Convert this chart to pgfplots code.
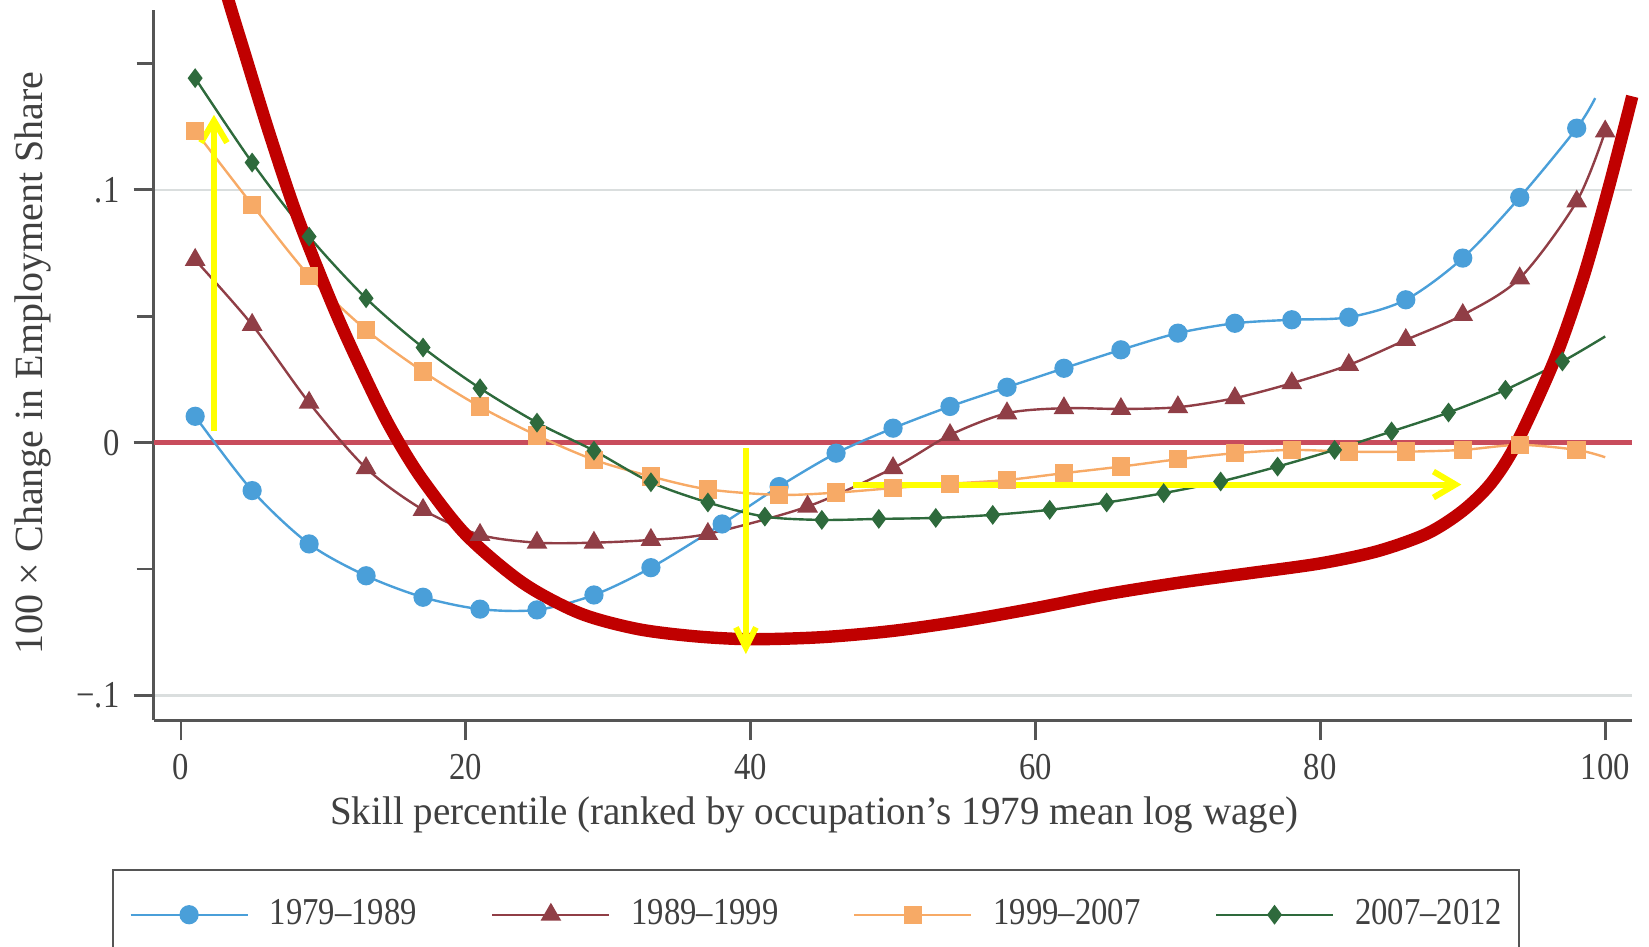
\documentclass[border=0pt]{standalone}
\usepackage{fontspec}
\setmainfont{Liberation Serif}
\usepackage{graphicx}
\usepackage{pgfplots}
\pgfplotsset{compat=1.18}
\usetikzlibrary{arrows.meta}

\definecolor{cblue}{RGB}{74,159,217}
\definecolor{cbrown}{RGB}{144,62,70}
\definecolor{corange}{RGB}{247,170,102}
\definecolor{cgreen}{RGB}{46,106,60}
\definecolor{zred}{RGB}{200,76,92}
\definecolor{annred}{RGB}{192,0,0}
\definecolor{ayellow}{RGB}{255,255,0}
\definecolor{txt}{RGB}{64,64,64}
\definecolor{axc}{RGB}{85,85,85}
\definecolor{gridc}{RGB}{218,222,222}

\newcommand{\sq}[1]{\scalebox{0.86}[1]{#1}}
\newcommand{\fs}{\fontsize{9.5pt}{11pt}\selectfont}
\newcommand{\fl}{\fontsize{10pt}{12pt}\selectfont}

\begin{document}
\begin{tikzpicture}
\path[use as bounding box, clip] (-38.4pt,-56.65pt) rectangle (373.9pt,180.1pt);
\begin{axis}[
  scale only axis, width=369.6pt, height=177.5pt,
  xmin=-1.92, xmax=101.87, ymin=-0.1099, ymax=0.1710,
  clip=false,
  axis lines*=left,
  axis line style={draw=axc, line width=0.7pt},
  tick align=outside,
  major tick length=5pt, minor tick length=4.25pt,
  tick style={draw=axc, line width=0.7pt},
  xtick={0,20,40,60,80,100},
  xticklabels={\sq{0},\sq{20},\sq{40},\sq{60},\sq{80},\sq{100}},
  ytick={-0.1,0,0.1},
  yticklabels={\sq{−.1},\sq{0},\sq{.1}},
  minor ytick={-0.05,0.05,0.15},
  ymajorgrids, grid style={draw=gridc, line width=0.6pt},
  tick label style={font=\fs, text=txt},
  label style={font=\fl, text=txt},
  xlabel={\scalebox{0.975}[1]{Skill percentile (ranked by occupation’s 1979 mean log wage)}},
  ylabel={100 × Change in Employment Share},
  xlabel style={at={(axis description cs:0.447,-0.1473)}, anchor=base},
  ylabel style={at={(axis description cs:-0.0815,0.503)}, anchor=center},
  legend columns=4,
  legend style={at={(axis description cs:-0.0284,-0.209)}, anchor=north west,
    draw=axc, line width=0.5pt, inner xsep=4.2pt, inner ysep=7.35pt,
    font=\fs, text=txt, nodes={inner sep=0pt},
    /tikz/every odd column/.append style={column sep=5.25pt},
    /tikz/every even column/.append style={column sep=18.6pt},
    cells={anchor=west}},
  legend image code/.code={
    \draw[#1] (0pt,0pt) -- (29.25pt,0pt);
    \path[#1] plot coordinates {(14.625pt,0pt)};
  },
  every axis plot/.append style={line width=0.6pt},
]
% zero reference line
\addplot[zred, line width=1.2pt, forget plot] coordinates {(-1.92,0) (101.87,0)};

% 1979-1989
\addplot[cblue, smooth, mark=*, mark size=2.1pt, mark indices={1,...,25}, mark options={solid}]
coordinates {
(1,0.0104) (5,-0.0190) (9,-0.0401) (13,-0.0527) (17,-0.0612) (21,-0.0659)
(25,-0.0662) (29,-0.0603) (33,-0.0495) (38,-0.0322) (42,-0.0174) (46,-0.0042)
(50,0.0057) (54,0.0143) (58,0.0219) (62,0.0294) (66,0.0367) (70,0.0433)
(74,0.0472) (78,0.0486) (82,0.0496) (86,0.0565) (90,0.0730) (94,0.0970)
(98,0.1244) (99.3,0.1363)};
\addlegendentry{\sq{1979–1989}}

% 1989-1999
\addplot[cbrown, smooth, mark=triangle*, mark size=2.4pt, mark options={solid}]
coordinates {
(1,0.0723) (5,0.0466) (9,0.0158) (13,-0.0101) (17,-0.0266) (21,-0.0365)
(25,-0.0396) (29,-0.0396) (33,-0.0385) (37,-0.0361) (44,-0.0253) (50,-0.0101)
(54,0.0030) (58,0.0116) (62,0.0136) (66,0.0133) (70,0.0140) (74,0.0176)
(78,0.0235) (82,0.0307) (86,0.0406) (90,0.0505) (94,0.0650) (98,0.0954)
(100,0.1231)};
\addlegendentry{\sq{1989–1999}}

% 1999-2007
\addplot[corange, smooth, mark=square*, mark size=2.0pt, mark indices={1,...,25}, mark options={solid}]
coordinates {
(1,0.1233) (5,0.0941) (9,0.0660) (13,0.0446) (17,0.0281) (21,0.0142)
(25,0.0028) (29,-0.0068) (33,-0.0134) (37,-0.0185) (42,-0.0207) (46,-0.0198)
(50,-0.0180) (54,-0.0163) (58,-0.0148) (62,-0.0121) (66,-0.0095) (70,-0.0066)
(74,-0.0042) (78,-0.0029) (82,-0.0036) (86,-0.0036) (90,-0.0029) (94,-0.0009)
(98,-0.0029) (100,-0.0058)};
\addlegendentry{\sq{1999–2007}}

% 2007-2012
\addplot[cgreen, smooth, mark=diamond*, mark size=2.0pt, mark indices={1,...,25}, mark options={solid}]
coordinates {
(1,0.1442) (5,0.1108) (9,0.0815) (13,0.0571) (17,0.0376) (21,0.0215)
(25,0.0079) (29,-0.0032) (33,-0.0157) (37,-0.0237) (41,-0.0293) (45,-0.0306)
(49,-0.0302) (53,-0.0298) (57,-0.0286) (61,-0.0266) (65,-0.0237) (69,-0.0200)
(73,-0.0154) (77,-0.0095) (81,-0.0029) (85,0.0044) (89,0.0119) (93,0.0209)
(97,0.0321) (100,0.0420)};
\addlegendentry{\sq{2007–2012}}

% red annotation curve
\addplot[annred, line width=3.1pt, smooth, tension=0.5, forget plot] coordinates {
(2.2,0.1980) (3.3,0.1757) (4.4,0.1554) (6.2,0.1225) (8.2,0.0890) (11,0.0497)
(13.7,0.0169) (15.2,0.0010) (17,-0.0150) (20,-0.0364) (24,-0.0555) (28,-0.0675)
(32,-0.0737) (36,-0.0766) (40,-0.0778) (45,-0.0770) (50,-0.0745) (55,-0.0705)
(60,-0.0655) (65,-0.0600) (70,-0.0555) (75,-0.0517) (80,-0.0478) (84,-0.0430)
(87.5,-0.0360) (90,-0.0270) (92,-0.0160) (93.8,0.0000) (96.5,0.0335)
(98.5,0.0660) (100.3,0.1020) (101.9,0.1370)};

% yellow arrows
\addplot[ayellow, line width=1.5pt, -{Straight Barb[length=5.5pt,width=6.5pt]}, forget plot]
coordinates {(2.32,0.0044) (2.32,0.1297)};
\addplot[ayellow, line width=1.5pt, -{Straight Barb[length=5pt,width=5pt]}, forget plot]
coordinates {(39.67,-0.0022) (39.67,-0.0837)};
\addplot[ayellow, line width=1.5pt, -{Straight Barb[length=5.5pt,width=6.5pt]}, forget plot]
coordinates {(47.2,-0.0166) (89.9,-0.0166)};
\end{axis}
\end{tikzpicture}
\end{document}
